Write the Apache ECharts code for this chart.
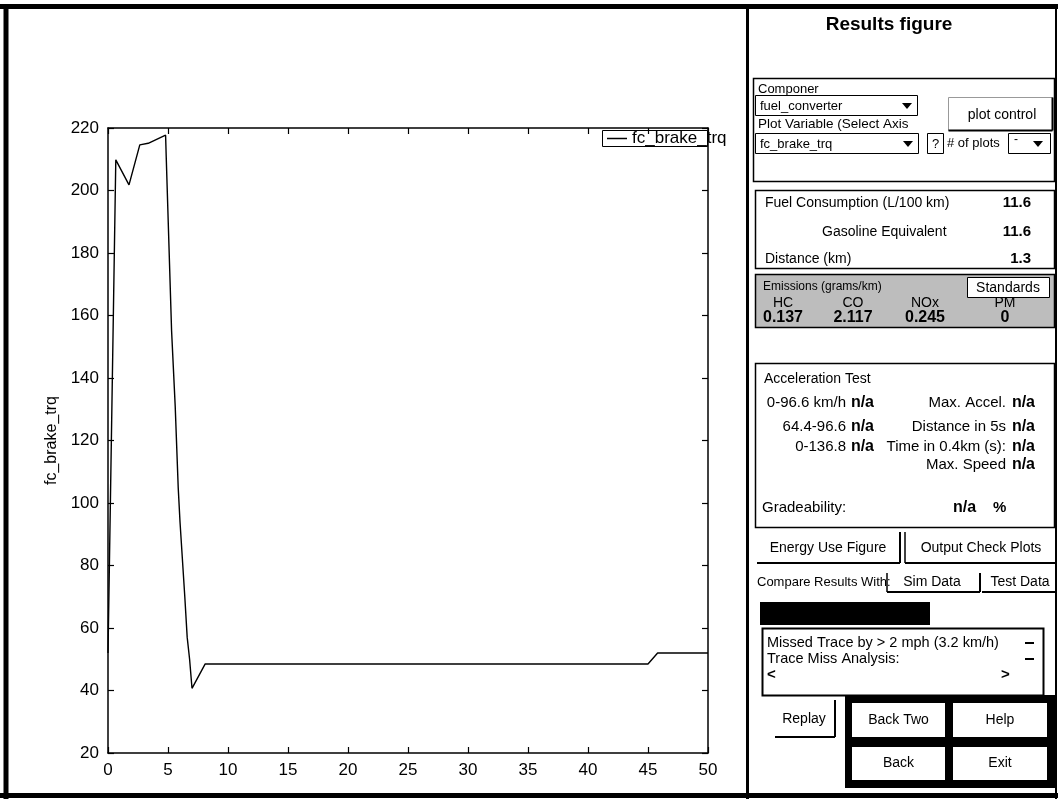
<!DOCTYPE html>
<html>
<head>
<meta charset="utf-8">
<script src="https://cdn.jsdelivr.net/npm/echarts@6/dist/echarts.min.js"></script>
<style>
html,body{margin:0;padding:0;background:#fff;}
#chart{width:1058px;height:799px;}
</style>
</head>
<body>
<div id="chart"></div>
<script>
// ---- data ----
const seriesName = 'fc_brake_trq';
const timeS  = [0, 0.65, 1.75, 2.65, 3.35, 4.8, 4.85, 5.3, 5.6, 5.85, 6.0, 6.4, 6.6, 6.8, 7.0, 8.1, 45.0, 45.8, 50];
const torque = [52, 209.8, 201.8, 214.6, 215.1, 217.7, 211, 155, 131, 105, 94, 70, 57, 50, 40.7, 48.5, 48.5, 52, 52];
const xRange = [0, 50, 5];
const yRange = [20, 220, 20];

const fuelLabels = ['Fuel Consumption (L/100 km)', 'Gasoline Equivalent', 'Distance (km)'];
const fuelValues = ['11.6', '11.6', '1.3'];
const emissionNames = ['HC', 'CO', 'NOx', 'PM'];
const emissionValues = ['0.137', '2.117', '0.245', '0'];
const accelLeft = ['0-96.6 km/h', '64.4-96.6', '0-136.8'];
const accelRight = ['Max. Accel.', 'Distance in 5s', 'Time in 0.4km (s):', 'Max. Speed'];

// ---- helpers ----
const FF = '"Liberation Sans", Arial, Helvetica, sans-serif';
function txt(x, y, s, size, opt) {
  opt = opt || {};
  const align = opt.align || 'left';
  return {type: 'text', x: x, y: y, silent: true, z: 10,
    style: {text: s, fill: '#000', font: (opt.bold ? 'bold ' : '') + size + 'px ' + FF,
      align: align, textAlign: align, verticalAlign: 'middle', textVerticalAlign: 'middle'}};
}
function rect(x, y, w, h, fill, stroke, lw) {
  return {type: 'rect', silent: true, z: 5, shape: {x: x, y: y, width: w, height: h},
    style: {fill: fill || 'none', stroke: stroke || 'none', lineWidth: lw || 1}};
}
function line(x1, y1, x2, y2, lw, color) {
  return {type: 'line', silent: true, z: 6, shape: {x1: x1, y1: y1, x2: x2, y2: y2},
    style: {stroke: color || '#000', lineWidth: lw || 1}};
}
function tri(cx, cy) {
  return {type: 'polygon', silent: true, z: 10,
    shape: {points: [[cx - 5, cy - 3], [cx + 5, cy - 3], [cx, cy + 3]]}, style: {fill: '#000'}};
}
function raised(x, y, w, h) { // button with dark right/bottom edges
  return [line(x + w, y, x + w, y + h, 2), line(x, y + h, x + w, y + h, 2)];
}

const G = [];
// outer window frame
G.push(line(0, 6.5, 1058, 6.5, 5));
G.push(line(6, 4, 6, 799, 5));
G.push(line(0, 795.5, 1058, 795.5, 5));
G.push(line(1056, 4, 1056, 799, 2));
// separator between plot and panel
G.push(line(747.5, 4, 747.5, 799, 3));

// legend box
G.push(rect(602.5, 130.5, 105, 16, 'none', '#000', 1));

// panel title
G.push(txt(889, 25, 'Results figure', 19, {bold: true, align: 'center'}));

// component box
G.push(rect(753.5, 78.5, 301, 103, 'none', '#000', 1.5));
G.push(txt(758, 89, 'Componer', 13));
G.push(rect(755.5, 95.5, 162, 20, '#fff', '#000', 1));
G.push(txt(760, 106, 'fuel_converter', 13));
G.push(tri(907, 106));
G.push(rect(948.5, 97.5, 104, 33, '#fff', '#999', 1));
G.push(...raised(948.5, 97.5, 104, 33));
G.push(txt(1002, 115, 'plot control', 14, {align: 'center'}));
G.push(txt(758, 124, 'Plot Variable (Select Axis', 13.5));
G.push(rect(755.5, 133.5, 163, 20, '#fff', '#000', 1));
G.push(txt(760, 144, seriesName, 13));
G.push(tri(908, 144));
G.push(rect(927.5, 133.5, 16, 20, '#fff', '#000', 1));
G.push(txt(935.5, 144, '?', 13, {align: 'center'}));
G.push(txt(947, 143, '# of plots', 13));
G.push(rect(1008.5, 133.5, 42, 20, '#fff', '#000', 1));
G.push(txt(1014, 140, '-', 12));
G.push(tri(1038, 144));

// fuel box
G.push(rect(755.5, 190.5, 299, 78, 'none', '#000', 1.5));
const fuelY = [203, 232, 259];
const fuelX = [765, 822, 765];
for (let i = 0; i < fuelLabels.length; i++) {
  G.push(txt(fuelX[i], fuelY[i], fuelLabels[i], 14));
  G.push(txt(1031, fuelY[i], fuelValues[i], 15, {bold: true, align: 'right'}));
}

// emissions box
G.push(rect(755.5, 274.5, 299, 53, '#bdbdbd', '#000', 1.5));
G.push(txt(763, 287, 'Emissions (grams/km)', 12));
G.push(rect(967.5, 277.5, 82, 20, '#fff', '#000', 1));
G.push(txt(1008, 288, 'Standards', 14, {align: 'center'}));
const emX = [783, 853, 925, 1005];
for (let i = 0; i < emissionNames.length; i++) {
  G.push(txt(emX[i], 303, emissionNames[i], 14, {align: 'center'}));
  G.push(txt(emX[i], 318, emissionValues[i], 16, {bold: true, align: 'center'}));
}

// acceleration box
G.push(rect(755.5, 363.5, 299, 164, 'none', '#000', 1.5));
G.push(txt(764, 379, 'Acceleration Test', 14));
const accY = [403, 427, 447, 465];
for (let i = 0; i < accelLeft.length; i++) {
  G.push(txt(846, accY[i], accelLeft[i], 15, {align: 'right'}));
  G.push(txt(874, accY[i], 'n/a', 16, {bold: true, align: 'right'}));
}
for (let i = 0; i < accelRight.length; i++) {
  G.push(txt(1006, accY[i], accelRight[i], 15, {align: 'right'}));
  G.push(txt(1035, accY[i], 'n/a', 16, {bold: true, align: 'right'}));
}
G.push(txt(762, 508, 'Gradeability:', 15));
G.push(txt(953, 508, 'n/a', 16, {bold: true}));
G.push(txt(993, 508, '%', 15, {bold: true}));

// energy / output buttons
G.push(...raised(757, 532, 143, 31));
G.push(txt(828, 548, 'Energy Use Figure', 14, {align: 'center'}));
G.push(line(905, 532, 905, 563, 1.5));
G.push(...raised(905, 532, 151, 31));
G.push(txt(981, 548, 'Output Check Plots', 14, {align: 'center'}));

// compare row
G.push(txt(757, 582, 'Compare Results With:', 13));
G.push(line(887, 573, 887, 592, 1.5));
G.push(...raised(887, 573, 93, 19));
G.push(txt(932, 582, 'Sim Data', 14, {align: 'center'}));
G.push(...raised(982, 573, 74, 19));
G.push(txt(1020, 582, 'Test Data', 14, {align: 'center'}));

// progress bar (black)
G.push(rect(760, 602, 170, 23, '#000', 'none', 0));

// trace miss box
G.push(rect(762.5, 628.5, 281, 67, '#fff', '#000', 2));
G.push(txt(767, 643, 'Missed Trace by > 2 mph (3.2 km/h)', 14.5));
G.push(txt(767, 659, 'Trace Miss Analysis:', 14.5));
G.push(txt(767, 675, '<', 15, {bold: true}));
G.push(txt(1001, 675, '>', 15, {bold: true}));
G.push(line(1025, 643, 1034, 643, 2));
G.push(line(1025, 659, 1034, 659, 2));

// replay button
G.push(...raised(775, 700, 60, 37));
G.push(txt(804, 719, 'Replay', 14, {align: 'center'}));

// navigation buttons in black frame
G.push(rect(845, 695, 211, 93, '#000', 'none', 0));
const navLabels = ['Back Two', 'Help', 'Back', 'Exit'];
const navPos = [[852, 703, 93, 34], [953, 703, 94, 34], [852, 747, 93, 33], [953, 747, 94, 33]];
for (let i = 0; i < navLabels.length; i++) {
  const p = navPos[i];
  G.push(rect(p[0], p[1], p[2], p[3], '#fff', 'none', 0));
  G.push(txt(p[0] + p[2] / 2, p[1] + p[3] / 2, navLabels[i], 14, {align: 'center'}));
}

// ---- chart ----
const chart = echarts.init(document.getElementById('chart'), null, {renderer: 'canvas'});
const axisCommon = {
  axisLine: {show: true, onZero: false, lineStyle: {color: '#000', width: 1.5}},
  axisTick: {show: true, inside: true, length: 6, lineStyle: {color: '#000', width: 1.2}},
  splitLine: {show: false},
  minorTick: {show: false}
};
const labelStyle = {color: '#000', fontSize: 17, fontFamily: FF};
chart.setOption({
  animation: false,
  backgroundColor: '#fff',
  grid: {left: 108, right: 350, top: 128, bottom: 46, containLabel: false},
  legend: {
    data: [{name: seriesName, icon: 'rect'}],
    left: 607, top: 130, padding: 0, itemWidth: 20, itemHeight: 1.5, itemGap: 5,
    textStyle: {color: '#000', fontSize: 17, fontFamily: FF, padding: [0, 0, 0, 0]},
    selectedMode: false
  },
  xAxis: [
    Object.assign({type: 'value', position: 'bottom', min: xRange[0], max: xRange[1], interval: xRange[2],
      axisLabel: Object.assign({margin: 9}, labelStyle)}, axisCommon),
    Object.assign({type: 'value', position: 'top', min: xRange[0], max: xRange[1], interval: xRange[2],
      axisLabel: {show: false}}, axisCommon)
  ],
  yAxis: [
    Object.assign({type: 'value', position: 'left', min: yRange[0], max: yRange[1], interval: yRange[2],
      name: seriesName, nameLocation: 'middle', nameGap: 41, nameRotate: 90,
      nameTextStyle: {color: '#000', fontSize: 16, fontFamily: FF},
      axisLabel: Object.assign({margin: 9}, labelStyle)}, axisCommon),
    Object.assign({type: 'value', position: 'right', min: yRange[0], max: yRange[1], interval: yRange[2],
      axisLabel: {show: false}}, axisCommon)
  ],
  series: [{
    name: seriesName, type: 'line', xAxisIndex: 0, yAxisIndex: 0,
    data: timeS.map((t, i) => [t, torque[i]]),
    symbol: 'none', smooth: false,
    lineStyle: {color: '#000', width: 1.4},
    itemStyle: {color: '#000'}
  }],
  graphic: {elements: G}
});
</script>
</body>
</html>
